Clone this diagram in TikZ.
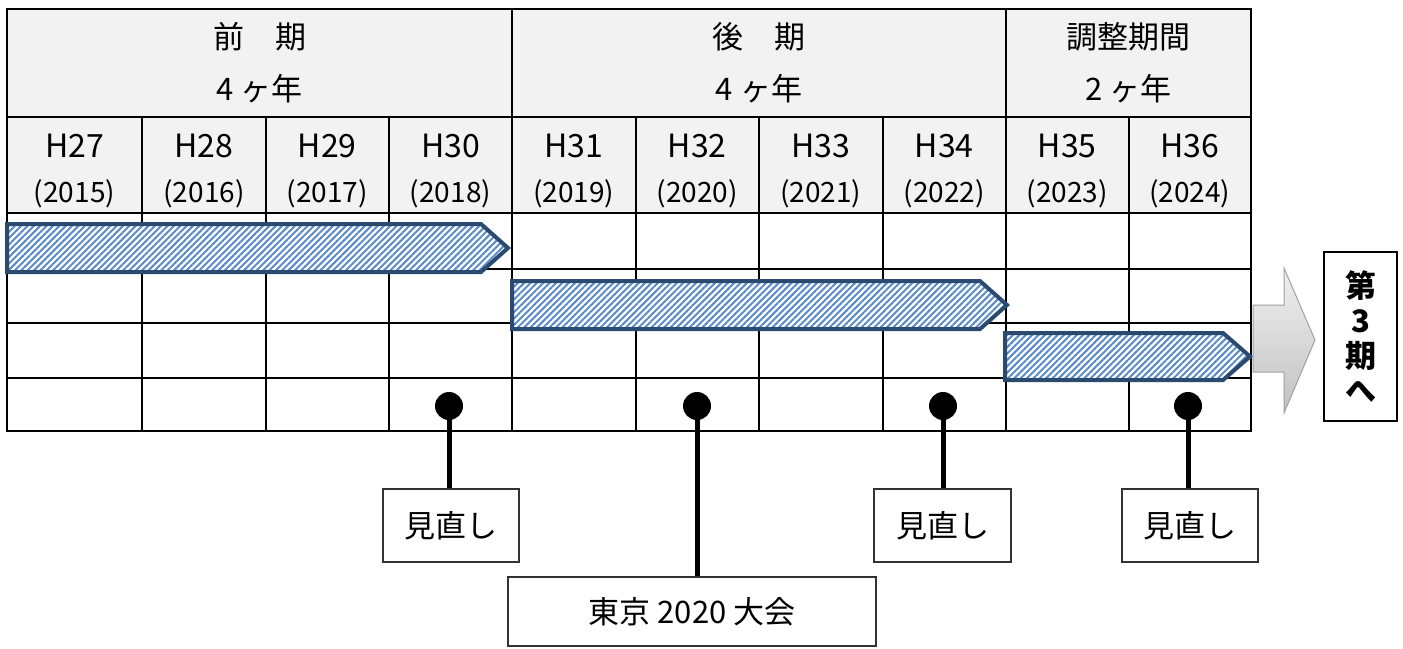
\documentclass[tikz,border=0pt]{standalone}
\usepackage{fontspec}
\setmainfont{Noto Sans CJK JP}
\usetikzlibrary{patterns.meta}
\definecolor{navy}{HTML}{2B4A6F}
\definecolor{hatchblue}{HTML}{5A8BC8}
\definecolor{hdrgray}{HTML}{F2F2F2}
\definecolor{arrowedge}{HTML}{A0A0A0}
\tikzset{
  gridline/.style={line width=2pt, black},
  bar/.style={line width=4pt, navy, line join=miter,
    preaction={fill=white},
    pattern={Lines[angle=45,distance=4.5pt,line width=2pt]}, pattern color=hatchblue},
  big/.style={font=\fontsize{32}{36}\selectfont},
  yr/.style={font=\fontsize{28}{30}\selectfont},
  cjk/.style={font=\fontsize{31}{36}\selectfont},
  dotnode/.style={circle, fill=black, inner sep=0pt, minimum size=28pt},
  stem/.style={line width=5pt, black},
  labelbox/.style={draw=black!80, line width=1.2pt, fill=white, inner sep=0pt,
    font=\fontsize{31}{36}\selectfont},
}
\begin{document}
\begin{tikzpicture}[x=1pt,y=-1pt]
\useasboundingbox (0,0) rectangle (1403,648);
% header background
\fill[hdrgray] (7,9) rectangle (1251,213);
% table grid
\draw[gridline] (7,9) rectangle (1251,431);
\foreach \yy in {117,213,269,323,378} \draw[gridline] (7,\yy) -- (1251,\yy);
\foreach \xx in {512,1006} \draw[gridline] (\xx,9) -- (\xx,117);
\foreach \xx in {142,265.5,389,512,635.5,759,882.5,1006,1128.5} \draw[gridline] (\xx,117) -- (\xx,431);
% header texts
\node[cjk, anchor=base] (p1) at (259.5,48) {前　期};
\node[cjk, anchor=base] (p1y) at (259.5,100) {4 ヶ年};
\node[cjk, anchor=base] (p2) at (759,48) {後　期};
\node[cjk, anchor=base] (p2y) at (759,100) {4 ヶ年};
\node[cjk, anchor=base] (p3) at (1128.5,48) {調整期間};
\node[cjk, anchor=base] (p3y) at (1128.5,100) {2 ヶ年};
% year texts
\foreach \cx/\h/\g [count=\i] in {74.5/27/2015, 204/28/2016, 327.25/29/2017, 450.5/30/2018, 573.75/31/2019, 697.25/32/2020, 820.75/33/2021, 944.25/34/2022, 1067.25/35/2023, 1189.75/36/2024}{
  \node[big, anchor=base] (h\i) at (\cx,157) {H\h};
  \node[yr, anchor=base] (g\i) at (\cx,202) {(\g)};
}
% hatched bars
\draw[bar] (7,224) -- (481,224) -- (508,248) -- (481,272) -- (7,272) -- cycle;
\draw[bar] (512,281) -- (980,281) -- (1007,305) -- (980,329) -- (512,329) -- cycle;
\draw[bar] (1005,333) -- (1223,333) -- (1250,356.5) -- (1223,380) -- (1005,380) -- cycle;
% big gray arrow
\draw[arrowedge, line width=1pt, top color=white!94!black, bottom color=white!76!black]
  (1253,305) -- (1284,305) -- (1284,268) -- (1315,340) -- (1284,413) -- (1284,372) -- (1253,372) -- cycle;
% next-period box
\node[draw=black, line width=1.5pt, fill=white, minimum width=73pt, minimum height=169pt,
  inner sep=0pt, align=center, font=\fontsize{31}{35}\selectfont\bfseries] (next) at (1360.5,336.5)
  {第\\3\\期\\へ};
% milestone dots
\node[dotnode] (d1) at (449,406) {};
\node[dotnode] (d2) at (697,406) {};
\node[dotnode] (d3) at (943,406) {};
\node[dotnode] (d4) at (1188,406) {};
% labels
\node[labelbox, minimum width=136pt, minimum height=73pt] (b1) at (451,525.5) {見直し};
\node[labelbox, minimum width=137pt, minimum height=73pt] (b3) at (942.5,525.5) {見直し};
\node[labelbox, minimum width=136pt, minimum height=73pt] (b4) at (1190,525.5) {見直し};
\node[labelbox, minimum width=368pt, minimum height=69pt] (b2) at (692,611.5) {東京 2020 大会};
% stems
\draw[stem] (d1.center) -- (d1.center |- b1.north);
\draw[stem] (d2.center) -- (d2.center |- b2.north);
\draw[stem] (d3.center) -- (d3.center |- b3.north);
\draw[stem] (d4.center) -- (d4.center |- b4.north);
\end{tikzpicture}
\end{document}
